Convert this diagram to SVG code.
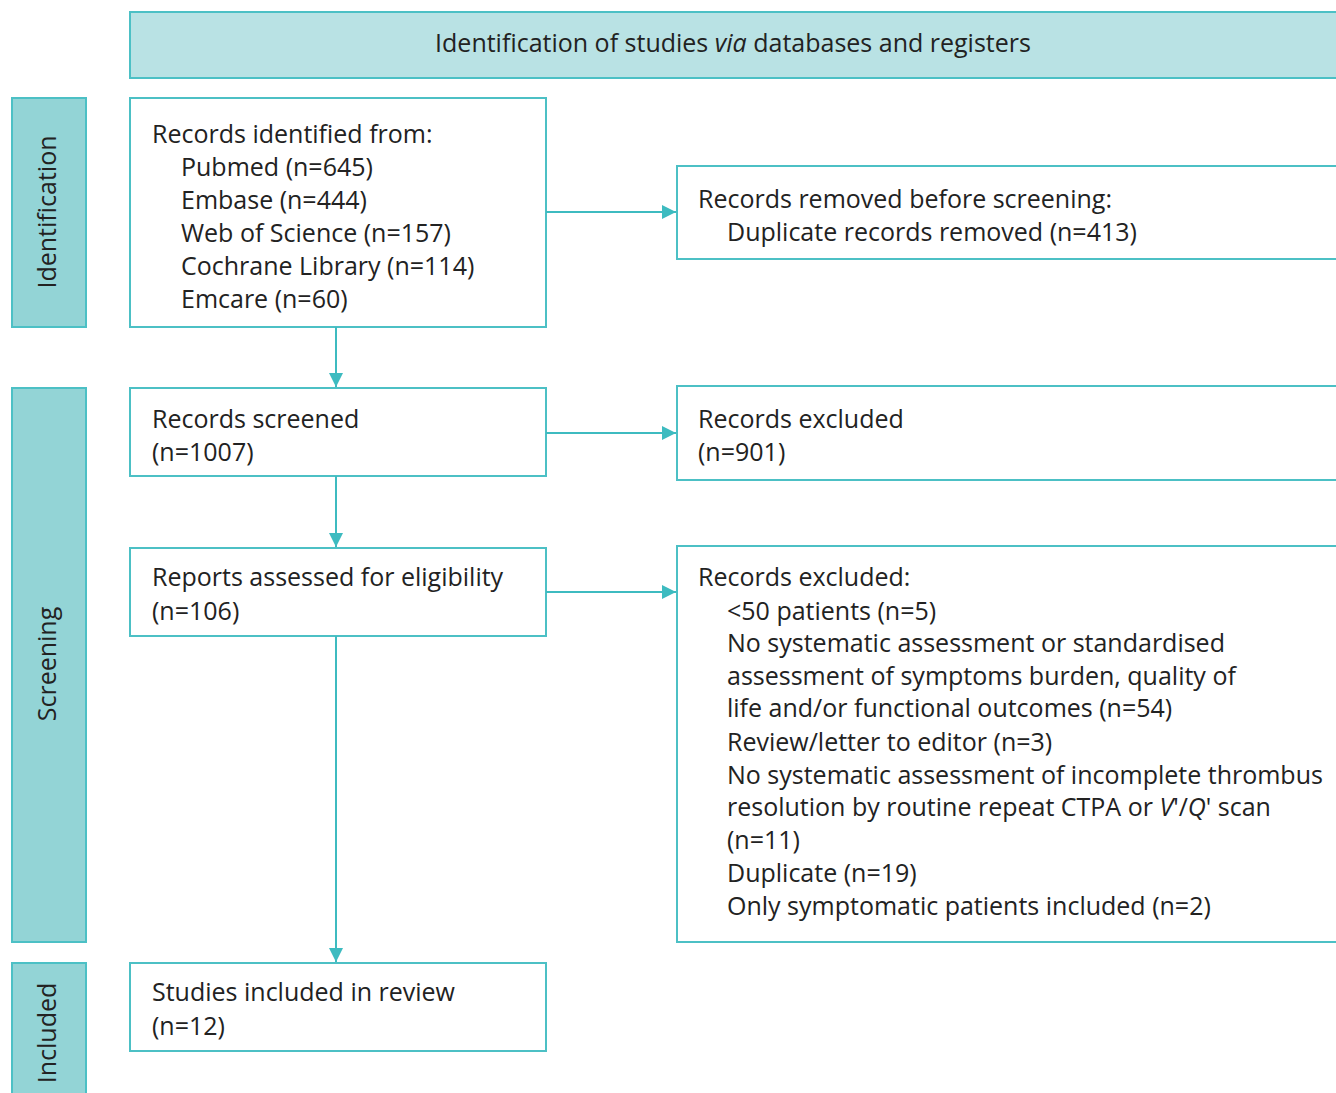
<svg xmlns="http://www.w3.org/2000/svg" width="1336" height="1093" viewBox="0 0 1336 1093">
<style>
.box{fill:#fff;stroke:#4cc0c5;stroke-width:2}
.hdr{fill:#b9e2e4;stroke:#4cc0c5;stroke-width:2}
.side{fill:#93d4d6;stroke:#4cc0c5;stroke-width:2}
.t{font-family:"Open Sans","Liberation Sans",sans-serif;font-size:25px;fill:#222}
.conn{stroke:#3dbbc0;stroke-width:2;fill:none}
</style>
<defs>
<marker id="ah" markerWidth="14" markerHeight="14" refX="14" refY="7" orient="auto" markerUnits="userSpaceOnUse">
<path d="M0,0 L14,7 L0,14 Z" fill="#3dbbc0"/>
</marker>
</defs>
<g id="header">
<rect class="hdr" x="130" y="12" width="1220" height="66"/>
<text class="t" x="733" y="52" text-anchor="middle">Identification of studies <tspan font-style="italic">via</tspan> databases and registers</text>
</g>
<g id="side-identification">
<rect class="side" x="12" y="98" width="74" height="229"/>
<text class="t" transform="translate(56,212) rotate(-90)" text-anchor="middle">Identification</text>
</g>
<g id="side-screening">
<rect class="side" x="12" y="388" width="74" height="554"/>
<text class="t" transform="translate(56,664) rotate(-90)" text-anchor="middle">Screening</text>
</g>
<g id="side-included">
<rect class="side" x="12" y="963" width="74" height="140"/>
<text class="t" transform="translate(56,1033) rotate(-90)" text-anchor="middle">Included</text>
</g>
<g id="records-identified">
<rect class="box" x="130" y="98" width="416" height="229"/>
<text class="t" x="152" y="143">Records identified from:</text>
<text class="t" x="181" y="176">Pubmed (n=645)</text>
<text class="t" x="181" y="209">Embase (n=444)</text>
<text class="t" x="181" y="242">Web of Science (n=157)</text>
<text class="t" x="181" y="275">Cochrane Library (n=114)</text>
<text class="t" x="181" y="308">Emcare (n=60)</text>
</g>
<g id="records-removed">
<rect class="box" x="677" y="166" width="680" height="93"/>
<text class="t" x="698" y="208">Records removed before screening:</text>
<text class="t" x="727" y="241">Duplicate records removed (n=413)</text>
</g>
<g id="records-screened">
<rect class="box" x="130" y="388" width="416" height="88"/>
<text class="t" x="152" y="428">Records screened</text>
<text class="t" x="152" y="461">(n=1007)</text>
</g>
<g id="records-excluded">
<rect class="box" x="677" y="386" width="680" height="94"/>
<text class="t" x="698" y="428">Records excluded</text>
<text class="t" x="698" y="461">(n=901)</text>
</g>
<g id="reports-assessed">
<rect class="box" x="130" y="548" width="416" height="88"/>
<text class="t" x="152" y="586">Reports assessed for eligibility</text>
<text class="t" x="152" y="620">(n=106)</text>
</g>
<g id="reports-excluded">
<rect class="box" x="677" y="546" width="680" height="396"/>
<text class="t" x="698" y="586">Records excluded:</text>
<text class="t" x="727" y="620">&lt;50 patients (n=5)</text>
<text class="t" x="727" y="652">No systematic assessment or standardised</text>
<text class="t" x="727" y="685">assessment of symptoms burden, quality of</text>
<text class="t" x="727" y="717">life and/or functional outcomes (n=54)</text>
<text class="t" x="727" y="751">Review/letter to editor (n=3)</text>
<text class="t" x="727" y="784">No systematic assessment of incomplete thrombus</text>
<text class="t" x="727" y="816">resolution by routine repeat CTPA or <tspan font-style="italic">V</tspan>'/<tspan font-style="italic">Q</tspan>' scan</text>
<text class="t" x="727" y="849">(n=11)</text>
<text class="t" x="727" y="882">Duplicate (n=19)</text>
<text class="t" x="727" y="915">Only symptomatic patients included (n=2)</text>
</g>
<g id="studies-included">
<rect class="box" x="130" y="963" width="416" height="88"/>
<text class="t" x="152" y="1001">Studies included in review</text>
<text class="t" x="152" y="1035">(n=12)</text>
</g>
<g id="connectors">
<line class="conn" x1="336" y1="327" x2="336" y2="387" marker-end="url(#ah)"/>
<line class="conn" x1="336" y1="476" x2="336" y2="547" marker-end="url(#ah)"/>
<line class="conn" x1="336" y1="636" x2="336" y2="962" marker-end="url(#ah)"/>
<line class="conn" x1="546" y1="212" x2="676" y2="212" marker-end="url(#ah)"/>
<line class="conn" x1="546" y1="433" x2="676" y2="433" marker-end="url(#ah)"/>
<line class="conn" x1="546" y1="592" x2="676" y2="592" marker-end="url(#ah)"/>
</g>
</svg>
